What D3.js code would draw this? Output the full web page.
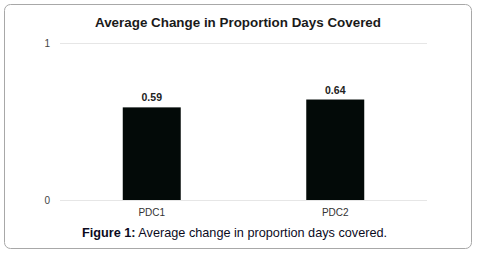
<!DOCTYPE html>
<html>
<head>
<meta charset="utf-8">
<script src="https://cdn.jsdelivr.net/npm/d3@7"></script>
<style>
  body { margin: 0; background: #fff; }
  svg text { font-family: "Liberation Sans", Arial, sans-serif; }
</style>
</head>
<body>
<div id="d3chart"></div>
<script>
// DATA ===========================================================================================
const categories = ['PDC1', 'PDC2']
const values = [0.59, 0.64]
const yTicks = [0, 1]
const title = 'Average Change in Proportion Days Covered'
const captionBold = 'Figure 1:'
const captionText = ' Average change in proportion days covered.'

// SET UP =========================================================================================
const width = 477
const height = 253
const plot = {left: 60, right: 427, top: 43, bottom: 200}

const svg = d3.select('#d3chart')
  .append('svg')
  .attr('width', width)
  .attr('height', height)

// outer frame
svg.append('rect')
  .attr('x', 4.5).attr('y', 4.5)
  .attr('width', 467).attr('height', 244)
  .attr('rx', 6)
  .attr('fill', 'none')
  .attr('stroke', '#a8a8a8')

svg.append('text')
  .attr('x', 238).attr('y', 27)
  .attr('text-anchor', 'middle')
  .attr('font-size', 13.4)
  .attr('font-weight', 'bold')
  .attr('fill', '#1a1a1a')
  .text(title)

// SCALES AND AXES ================================================================================
const x = d3.scaleBand()
  .domain(categories)
  .range([plot.left, plot.right])
  .paddingInner(0.684)
  .paddingOuter(0.342)

const y = d3.scaleLinear()
  .domain([0, 1])
  .range([plot.bottom, plot.top])

const yAxis = svg.append('g')
  .attr('transform', `translate(${plot.left}, 0)`)
  .call(d3.axisLeft(y).tickValues(yTicks).tickSize(-(plot.right - plot.left)).tickPadding(10).tickFormat(d3.format('d')))
yAxis.select('.domain').remove()
yAxis.selectAll('line').attr('stroke', '#e6e6e6')
yAxis.selectAll('text').attr('fill', '#444').attr('font-size', 10).attr('font-family', '"Liberation Sans", Arial, sans-serif')

const xAxis = svg.append('g')
  .attr('transform', `translate(0, ${plot.bottom})`)
  .call(d3.axisBottom(x).tickSize(0).tickPadding(9))
xAxis.select('.domain').remove()
xAxis.selectAll('text').attr('fill', '#333').attr('font-size', 10).attr('font-family', '"Liberation Sans", Arial, sans-serif')

// MARKS ==========================================================================================
svg.selectAll('.bar')
  .data(values)
  .join('rect')
    .attr('class', 'bar')
    .attr('x', (d, i) => x(categories[i]))
    .attr('y', d => y(d))
    .attr('width', x.bandwidth())
    .attr('height', d => y(0) - y(d))
    .attr('fill', '#030a08')

svg.selectAll('.val')
  .data(values)
  .join('text')
    .attr('class', 'val')
    .attr('x', (d, i) => x(categories[i]) + x.bandwidth() / 2)
    .attr('y', d => y(d) - 6)
    .attr('text-anchor', 'middle')
    .attr('font-size', 10.5)
    .attr('font-weight', 'bold')
    .attr('fill', '#222')
    .text(d => d3.format('.2f')(d))

// CAPTION ========================================================================================
const cap = svg.append('text')
  .attr('x', 234.5).attr('y', 237)
  .attr('text-anchor', 'middle')
  .attr('font-size', 12.7)
  .attr('fill', '#0b0b1e')
cap.append('tspan').attr('font-weight', 'bold').text(captionBold)
cap.append('tspan').text(captionText)
</script>
</body>
</html>
